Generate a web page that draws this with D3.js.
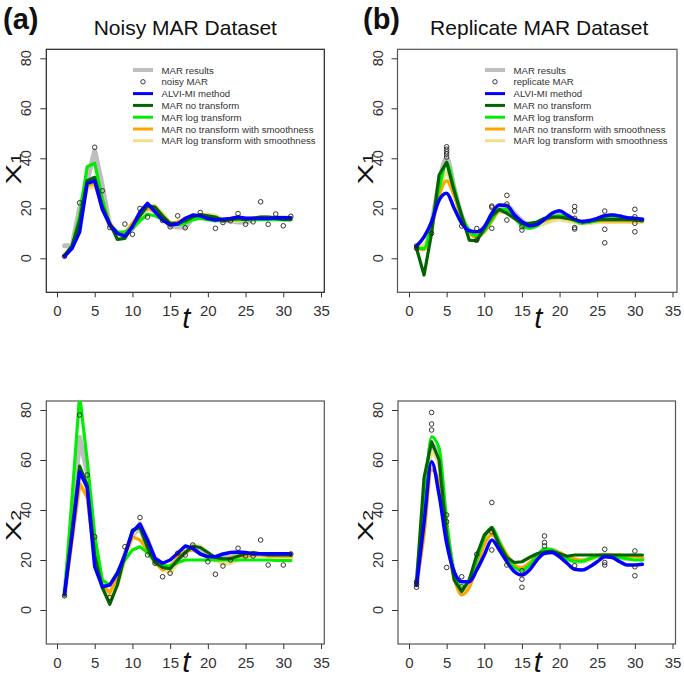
<!DOCTYPE html>
<html><head><meta charset="utf-8">
<script src="https://cdn.jsdelivr.net/npm/d3@7"></script>
<style>
body{margin:0;background:#fff;}
svg{display:block;}
text{font-family:"Liberation Sans",Arial,sans-serif;}
</style></head>
<body><svg id="c" width="684" height="678"></svg>
<script>
// ---------- data ----------
const T = [1,2,3,4,5,6,7,8,9,10,11,12,13,14,15,16,17,18,19,20,21,22,23,24,25,26,27,28,29,30,31];
const xTicks = [0,5,10,15,20,25,30,35];
const yTicks = [0,20,40,60,80];
const seriesNames = ["MAR results","ALVI-MI method","MAR no transform","MAR log transform","MAR no transform with smoothness","MAR log transform with smoothness"];
const panelTitles = ["Noisy MAR Dataset","Replicate MAR Dataset"];
const panelTags = ["(a)","(b)"];
const pointNames = ["noisy MAR","replicate MAR"];

// Panel a, X1 (noisy)
const a1Mar  = [5,5,20,31,43,29,13,10,9,12,17,20,20,17,13,12.5,12.5,16,17,17,16,15,15,14.5,14.5,15.5,16,16,16,16,16];
const a1Alvi = [0.8,4,10.5,30,31,19.6,13.3,10,8.9,12.6,18.6,22,18.6,15.3,13.3,13.7,16,17.3,17,15.9,15.3,15.6,15.9,16.5,16,16,15.9,15.9,16.2,16.2,16.2];
const a1NoT  = [1,5,15,31,32.4,21,14,7.6,8,13,17,21,20.5,17,14,14,15,16.5,17.5,17,16.5,15,15.5,16,15.5,16,16.5,16.5,16,15.5,15.5];
const a1Log  = [1,5,17,36.6,38,24,13,10.6,10.5,12,15,17.6,17,15.5,14,13.5,14,15.5,16,15.5,15,15.5,15.5,15.5,15.5,15.5,15.5,15.5,15.5,15.5,15.5];
const a1NoTS = [1,4,15,29,30,21,14,10,10,14,18,20,18.5,15.5,14,14.5,16,17,17,16.5,16,15.5,15.5,15.5,16,16,16,16,16,16,16];
const a1LogS = [1.5,5,15,28,29,22,14,10,10,13,17,20.5,21,18,14,13.5,14,16,17,17.5,17,15.5,15,15,15.5,16,16.5,16.5,16.5,16.5,16];
const a1PtT  = [1,3,5,6,7,9,10,11,12,14,15,16,17,19,21,22,23,24,25,26,27,28,29,30,31];
const a1PtV  = [0.8,22.2,44.4,27,12.3,13.7,9.6,19.9,16.5,15.1,12.6,17,12.2,18.3,12,14.3,15,17.9,13.6,14.6,22.6,13.6,17.7,13,16.8];

// Panel b, X1 (replicate)
const b1Mar  = [4.5,4,14,30,40,28,17,11,9.5,12,17,21,21,18,15,13,13.5,15.5,17,17.5,16.5,15,14.5,15,15.5,16.5,17,16.5,16,15.5,15.5];
const b1Alvi = [4.9,8.6,14.6,23.3,26,20,14,11,10.6,12.6,18,21.3,21,17.3,14.7,13,13.6,15.6,18,19,17.3,15.6,14.7,15,16,17,17.3,16.9,16.2,16,15.6];
const b1NoT  = [4,-6.7,10,33.3,38.4,27,17,7.3,7,12,17,19.5,18,16,14,14,14.5,16,16.5,16.5,16,15.5,14.5,15,15.5,15.5,15.5,15.5,15.5,15.5,15];
const b1Log  = [4,4,14,28,38,28,17,11,9,11,15.5,19.5,19.5,16.5,13,12,13,15.5,16.5,17,16.5,15,14,14.5,15,16,16,16,15.5,15.5,15.5];
const b1NoTS = [4,3.5,12,25,31,25,16,10,8.5,10.5,15,19,19,16.5,14,13.5,14,15,16,16.5,16,15,14.5,14.5,15,15,15,15,15,15,15];
const b1LogS = [4.5,5.5,13,27,34,26,16,10.5,9.5,11,15,18.5,18.5,16,13.5,12.5,13,14,15,15.5,15,14.5,14,14,14.5,14.5,14.5,14.5,14.5,14.5,14.5];
const b1PtT  = [1,1,3,5,5,5,5,5,7,9,9,11,11,11,13,13,13,15,15,22,22,22,22,22,26,26,26,30,30,30,30];
const b1PtV  = [4.9,4,10,44.6,43.6,42.6,41.7,40.5,12.9,11.9,7.3,20.9,20.4,12,25.2,21.7,15.3,11.3,12.6,20.7,18.9,16,12.3,11.7,18.9,11.6,6.2,19.6,16.6,14,10.6];

// Panel a, X2 (noisy)
const a2Mar  = [6,35,69,55,25,10,5,12,22,30,33,25,19,17,17,20,23,25,24,22,21,21,21,22,22,22,22,22,22,21,21];
const a2Alvi = [6.5,30,55.3,49,17.3,9.3,10,14.7,22,31.3,34.4,28,20.7,18.7,20,22.7,25.6,24.7,22.4,21.3,21.3,22.4,23,23.2,23,22.4,22.5,22.5,22.5,22.5,22.5];
const a2NoT  = [6,32,57.6,50,22,9,2.3,10,22,32,33,25,19,17,16.5,20,23,25.5,25,23,21,20.5,20.5,21.5,22.5,23,22.5,22,22,22,22];
const a2Log  = [5.7,45,86,60,30,12,10,15,20,24,25.3,23,19.3,18,17.5,19,20,20,20,20,20,20,20,20,20,20,20,20,19.8,19.8,19.8];
const a2NoTS = [6,28,50.7,45,20,10,7,13,22,29.3,28,24,19,16,17.5,21,23.5,24,22.5,21,20,20,21,21.5,21.5,22,22,21.5,21.5,21.5,21.5];
const a2LogS = [6,28,50,47,22,10,5,10,20,30,35,29,20,16.5,15,19,23,26,25.3,23,20,18.5,18.7,20,21.5,22,22,21.5,21,20.5,20.5];
const a2PtT  = [1,3,4,5,7,9,11,12,13,14,15,16,17,18,20,21,22,23,24,25,26,27,28,30,31];
const a2PtV  = [5.7,78,54,29.3,5,25.3,37,22,18.7,13.3,14.7,22.7,22,26,19.3,14.3,17.6,20,24.7,21.6,21.6,28,18,18,22.4];

// Panel b, X2 (replicate)
const b2Mar  = [10,40,66,60,33,14,8,11,20,28,32,27,21,17,16,18,21.5,24,24,22.5,20.5,19.5,19.5,20.5,21.5,22,21.5,21,20.5,20.5,20.5];
const b2Alvi = [10,35,59.3,46,26.7,15.3,11.3,11.3,16,22,28,24,19.3,15.3,14,16,20,22.7,23,21.3,18.7,16.3,16,17.3,19.3,21.3,21,19.3,18,18,18.3];
const b2NoT  = [11,53,67.3,60,30,12,7.3,12,22,30,33,26,21,19,19.3,21,22.5,23.3,23.5,22.5,21.5,22,22,22,22,22,22,22,22,22,22];
const b2Log  = [10,40,69.3,64.7,35,15,9,12,20,29,33,27,21,17,16,18,21.5,24.5,24,22.5,20.5,19.5,19.5,20.5,21.5,22,21.5,21,20.5,20,20];
const b2NoTS = [10,30,56,52,30,13,6,9,17,26,30,27,22,18,17,19,21.5,23,23.5,23,21.5,20.5,20,20.5,21.5,22,22,22,21.5,21.5,21];
const b2LogS = [10,35,63,58,32,14,8,11,19,27,30.5,27,22,18,16.5,18,20.5,22.5,23,22,20.5,19.5,19.5,20,21,21.5,21.5,21,20.5,20.5,20.5];
const b2PtT  = [1,1,1,3,3,3,5,5,5,7,7,9,11,11,11,13,15,15,15,18,18,18,22,26,26,26,30,30,30];
const b2PtV  = [11.3,10.3,9.1,79,74.4,72,38,35.3,17,13.3,9.3,22.3,43,31.3,24,18,15.7,12.3,9.1,29.6,27,25.6,17.7,24.3,19,18,23.6,17.3,13.7];

// ---------- styles ----------
const colors = ["#bebebe","#0000ff","#006400","#00ee00","#ffa500","#eee08c"];
const widths = [5,3.5,3.2,3.2,3.2,4];
const drawOrder = [0,5,4,3,2,1];

const svg = d3.select("#c");

const panels = [
  {col:0,row:0,series:[a1Mar,a1Alvi,a1NoT,a1Log,a1NoTS,a1LogS],pt:[a1PtT,a1PtV],box:[46.3,49.3,324.3,292.3],x:[57,321],y:[258.3,58.3],sub:"1",legend:true},
  {col:1,row:0,series:[b1Mar,b1Alvi,b1NoT,b1Log,b1NoTS,b1LogS],pt:[b1PtT,b1PtV],box:[397.5,49.3,677,292.3],x:[409,672.5],y:[258.3,58.3],sub:"1",legend:true},
  {col:0,row:1,series:[a2Mar,a2Alvi,a2NoT,a2Log,a2NoTS,a2LogS],pt:[a2PtT,a2PtV],box:[46.3,401,324.3,644],x:[57,321],y:[610,410],sub:"2",legend:false},
  {col:1,row:1,series:[b2Mar,b2Alvi,b2NoT,b2Log,b2NoTS,b2LogS],pt:[b2PtT,b2PtV],box:[398,401,675.5,644],x:[409,672.5],y:[610,410],sub:"2",legend:false}
];

panels.forEach((p,pi)=>{
  const [L,Tp,R,B] = p.box;
  const xs = d3.scaleLinear().domain([0,35]).range(p.x);
  const ys = d3.scaleLinear().domain([0,80]).range(p.y);
  const g = svg.append("g");
  const cid = "clip"+pi;
  g.append("clipPath").attr("id",cid).append("rect")
    .attr("x",L).attr("y",Tp).attr("width",R-L).attr("height",B-Tp);

  // box
  g.append("rect").attr("x",L).attr("y",Tp).attr("width",R-L).attr("height",B-Tp)
    .attr("fill","none").attr("stroke", pi===0?"#222":"#555").attr("stroke-width",1.2);

  // x axis
  const xa = g.append("g").attr("transform",`translate(0,${B})`)
    .call(d3.axisBottom(xs).tickValues(xTicks).tickSize(5).tickPadding(8).tickFormat(d3.format("d")));
  xa.select(".domain").remove();
  xa.selectAll("line").attr("stroke","#333");
  xa.selectAll("text").attr("font-size",15).attr("fill","#333").attr("font-family","'Liberation Sans',Arial,sans-serif");

  // y axis ticks
  const ya = g.append("g").attr("transform",`translate(${L},0)`)
    .call(d3.axisLeft(ys).tickValues(yTicks).tickSize(6).tickFormat(""));
  ya.select(".domain").remove();
  ya.selectAll("line").attr("stroke","#333");
  g.selectAll(".ylab").data(yTicks).enter().append("text")
    .attr("transform",d=>`translate(${L-15},${ys(d)}) rotate(-90)`)
    .attr("text-anchor","middle").attr("font-size",14.5).attr("fill","#333")
    .text(d=>d);

  // lines (replicate panels drawn smooth)
  const lg = g.append("g").attr("clip-path",`url(#${cid})`);
  drawOrder.forEach(si=>{
    const curve = (p.col===1 && si!==2) ? d3.curveMonotoneX : d3.curveLinear;
    const line = d3.line().x((d,i)=>xs(T[i])).y(d=>ys(d)).curve(curve);
    lg.append("path").datum(p.series[si]).attr("d",line)
      .attr("fill","none").attr("stroke",colors[si]).attr("stroke-width",widths[si])
      .attr("stroke-linejoin","round").attr("stroke-linecap","round");
  });
  // points
  lg.selectAll("circle.pt").data(p.pt[0]).enter().append("circle")
    .attr("cx",d=>xs(d)).attr("cy",(d,i)=>ys(p.pt[1][i])).attr("r",2.3)
    .attr("fill","none").attr("stroke","#222").attr("stroke-width",0.9);

  // axis titles
  const yl = g.append("text")
    .attr("transform",`translate(${L-25},${(Tp+B)/2 + (p.row===0?-2:3)}) rotate(-90) scale(1.4,1)`)
    .attr("text-anchor","middle").attr("font-size",22).attr("fill","#111");
  yl.append("tspan").text("X");
  yl.append("tspan").attr("font-size",14).attr("dy",0).text(p.sub);

  g.append("text").attr("x",(L+R)/2+1).attr("y",p.row===0?B+35.5:B+28)
    .attr("text-anchor","middle").attr("font-size",29).attr("font-style","italic")
    .attr("fill","#111").text("t");

  // titles (top row only)
  if(p.row===0){
    svg.append("text").attr("x",(L+R)/2 + (p.col===0?0:2)).attr("y",35)
      .attr("text-anchor","middle").attr("font-size",21).attr("fill","#111")
      .text(panelTitles[p.col]);
    svg.append("text").attr("x",p.col===0?3:363).attr("y",29)
      .attr("font-size",29).attr("font-weight","bold").attr("fill","#111")
      .attr("font-family","'Open Sans','Liberation Sans',Arial,sans-serif")
      .text(panelTags[p.col]);
  }

  // legend
  if(p.legend){
    const lx = p.col===0 ? 133 : 485;
    const rows = [0,"pt",1,2,3,4,5];
    rows.forEach((r,i)=>{
      const yy = 70 + i*11.8;
      if(r==="pt"){
        g.append("circle").attr("cx",lx+10).attr("cy",yy).attr("r",2.2)
          .attr("fill","none").attr("stroke","#222").attr("stroke-width",0.9);
      } else {
        g.append("line").attr("x1",lx).attr("x2",lx+20).attr("y1",yy).attr("y2",yy)
          .attr("stroke",colors[r]).attr("stroke-width",r===0?4:3);
      }
      g.append("text").attr("x",lx+28.5).attr("y",yy+3.5)
        .attr("font-size",9.6).attr("fill","#333")
        .text(r==="pt"?pointNames[p.col]:seriesNames[r]);
    });
  }
});
</script></body></html>
